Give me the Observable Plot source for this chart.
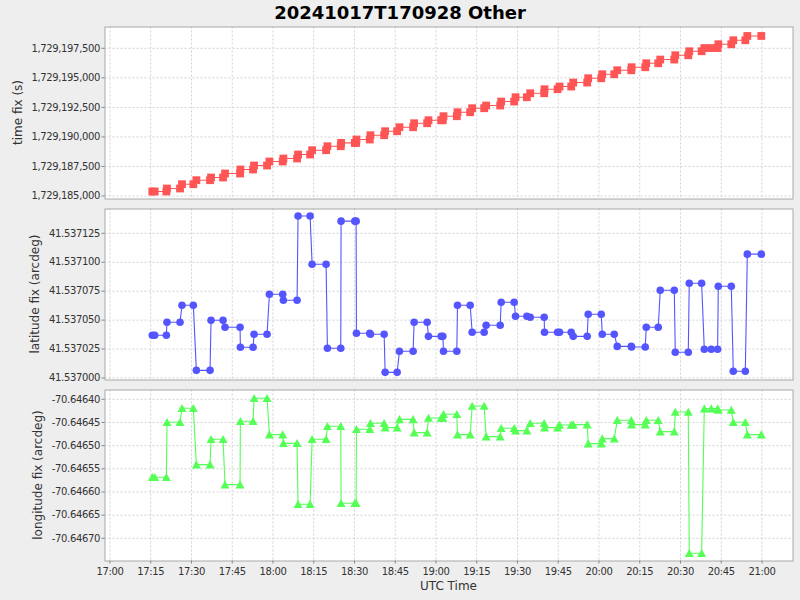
<!DOCTYPE html>
<html>
<head>
<meta charset="utf-8">
<script src="https://cdn.jsdelivr.net/npm/d3@7"></script>
<script src="https://cdn.jsdelivr.net/npm/@observablehq/plot@0.6"></script>
<style>
  html, body { margin: 0; padding: 0; background: #eeeeee; }
  #chart { position: relative; width: 800px; height: 600px; background: #eeeeee; overflow: hidden; }
  #chart svg { position: absolute; left: 0; top: 0; }
</style>
</head>
<body>
<div id="chart"></div>
<script>
// ---- data ----
const chartTitle = "20241017T170928 Other";
const xLabel = "UTC Time";
const yLabels = ["time fix (s)", "latitude fix (arcdeg)", "longitude fix (arcdeg)"];

// sample times (UTC, 2024-10-17)
const sampleTimes = [
  "17:15:35","17:16:27","17:20:45","17:20:59","17:25:47","17:26:31","17:30:41","17:31:48","17:36:50","17:37:12",
  "17:41:37","17:42:21","17:47:53","17:48:00","17:52:40","17:53:02","17:57:49","17:58:41","18:03:35","18:03:50",
  "18:08:52","18:09:14","18:13:40","18:14:24","18:19:33","18:20:02","18:24:57","18:25:04","18:30:07","18:30:36",
  "18:30:43","18:35:38","18:35:53","18:40:55","18:41:17","18:45:42","18:46:33","18:51:35","18:51:57","18:56:45",
  "18:57:14","19:01:54","19:02:31","19:02:46","19:07:40","19:07:55","19:12:35","19:13:19","19:17:44","19:18:28",
  "19:23:38","19:24:00","19:28:47","19:29:17","19:33:27","19:34:41","19:39:50","19:39:57","19:44:45","19:45:29",
  "19:49:47","19:50:31","19:55:40","19:56:02","20:00:50","20:01:12","20:05:37","20:06:43","20:11:53","20:12:00",
  "20:17:02","20:17:24","20:21:49","20:22:33","20:27:43","20:28:05","20:32:52","20:33:14","20:37:47","20:38:46",
  "20:41:20","20:43:40","20:43:55","20:48:42","20:49:26","20:53:52","20:54:36","20:59:45"
];
// which fix each sample reports
const sampleFix = [
  0,0,0,1,1,2,2,3,3,4,4,5,5,6,6,7,7,8,8,9,9,10,10,11,11,12,12,13,13,13,
  14,14,15,15,16,16,17,17,18,18,19,19,19,20,20,21,21,22,22,23,23,24,24,25,25,26,26,27,27,28,
  28,29,29,30,30,31,31,32,32,33,33,34,34,35,35,36,36,37,37,38,38,38,39,39,40,40,41,41
];
// fix values
const fixTime = [
  1729185381,1729185635,1729185998,1729186337,1729186565,1729186904,1729187242,1729187580,1729187919,1729188173,
  1729188511,1729188875,1729189213,1729189492,1729189780,1729190144,1729190482,1729190821,1729191159,1729191413,
  1729191751,1729192090,1729192428,1729192656,1729192995,1729193359,1729193697,1729194035,1729194264,1729194602,
  1729194966,1729195304,1729195643,1729195897,1729196235,1729196548,1729196912,1729197250,1729197521,1729197842,
  1729198181,1729198545
];
const fixLat = [
  41.5370369,41.5370482,41.5370629,41.5370066,41.5370499,41.5370438,41.5370265,41.5370378,41.5370724,41.5370672,
  41.5371399,41.5370983,41.5370257,41.5371355,41.5370386,41.5370378,41.5370049,41.5370231,41.5370482,41.5370360,
  41.5370231,41.5370629,41.5370395,41.5370456,41.5370655,41.5370534,41.5370525,41.5370395,41.5370395,41.5370360,
  41.5370551,41.5370378,41.5370273,41.5370268,41.5370438,41.5370758,41.5370222,41.5370819,41.5370248,41.5370793,
  41.5370058,41.5371070
];
const fixLon = [
  -70.6465683,-70.6464496,-70.6464194,-70.6465410,-70.6464863,-70.6465842,-70.6464475,-70.6463978,-70.6464763,-70.6464950,
  -70.6466266,-70.6464863,-70.6464583,-70.6466245,-70.6464647,-70.6464518,-70.6464612,-70.6464432,-70.6464720,-70.6464403,
  -70.6464324,-70.6464763,-70.6464144,-70.6464806,-70.6464626,-70.6464676,-70.6464518,-70.6464612,-70.6464554,-70.6464547,
  -70.6464957,-70.6464849,-70.6464453,-70.6464547,-70.6464453,-70.6464698,-70.6464273,-70.6467324,-70.6464201,-70.6464230,
  -70.6464496,-70.6464763
];
// axis ticks
const xTickTimes = ["17:00","17:15","17:30","17:45","18:00","18:15","18:30","18:45","19:00","19:15","19:30","19:45","20:00","20:15","20:30","20:45","21:00"];
const timeTicks = [1729185000,1729187500,1729190000,1729192500,1729195000,1729197500];
const latTicks = [41.537000,41.537025,41.537050,41.537075,41.537100,41.537125];
const lonTicks = [-70.64640,-70.64645,-70.64650,-70.64655,-70.64660,-70.64665,-70.64670];

// ---- build ----
const utc = s => new Date(`2024-10-17T${s.length === 5 ? s + ":00" : s}Z`);
const samples = sampleTimes.map((s, i) => ({
  t: utc(s),
  time: fixTime[sampleFix[i]],
  lat: fixLat[sampleFix[i]],
  lon: fixLon[sampleFix[i]]
}));
const xTicks = xTickTimes.map(utc);
const xDomain = [utc("16:58:10"), utc("21:11:25")];

const squareSym = { draw(c) { c.rect(-3.9, -3.9, 7.8, 7.8); } };
const triSym = { draw(c) { c.moveTo(0, -4.3); c.lineTo(4.5, 3.8); c.lineTo(-4.5, 3.8); c.closePath(); } };

const chart = document.getElementById("chart");
const FONT = "DejaVu Sans, Verdana, sans-serif";

function panel({y, domain, top, bottom, ticks, fmt, color, symbol, r, showX}) {
  const marks = [
    Plot.frame({fill: "white", stroke: null}),
    Plot.gridX(xTicks, {stroke: "#d2d2d2", strokeOpacity: 1, strokeWidth: 1, strokeDasharray: "2,2"}),
    Plot.gridY(ticks, {stroke: "#d2d2d2", strokeOpacity: 1, strokeWidth: 1, strokeDasharray: "2,2"}),
    Plot.line(samples, {x: "t", y, stroke: color, strokeWidth: 1.1}),
    Plot.dot(samples, {x: "t", y, fill: color, stroke: null, r, symbol}),
    Plot.frame({stroke: "#a8a8a8", strokeWidth: 1}),
    Plot.axisY(ticks, {tickSize: 3, tickPadding: 2, tickFormat: fmt, stroke: "#888888", fill: "#333333", label: null})
  ];
  if (showX) {
    marks.push(Plot.axisX(xTicks, {tickSize: 3, tickPadding: 3.5, tickFormat: d3.utcFormat("%H:%M"), stroke: "#888888", fill: "#333333", label: null}));
  }
  return Plot.plot({
    width: 800, height: 600,
    marginLeft: 104.5, marginRight: 7.5, marginTop: top, marginBottom: 600 - bottom,
    style: {background: "transparent", fontFamily: FONT, fontSize: "10px", letterSpacing: "-0.35px", overflow: "visible"},
    x: {type: "utc", domain: xDomain, axis: showX ? undefined : null},
    y: {domain},
    marks
  });
}

chart.appendChild(panel({
  y: "time", domain: [1729184746, 1729199303], top: 26.5, bottom: 198.5,
  ticks: timeTicks, fmt: d3.format(","), color: "#ff5555", symbol: squareSym, r: 4, showX: false
}));
chart.appendChild(panel({
  y: "lat", domain: [41.53699827, 41.537146], top: 208.5, bottom: 379.5,
  ticks: latTicks, fmt: d => d.toFixed(6), color: "#5555ff", symbol: "circle", r: 3.8, showX: false
}));
chart.appendChild(panel({
  y: "lon", domain: [-70.646749, -70.6463799], top: 389.5, bottom: 560.5,
  ticks: lonTicks, fmt: d => d.toFixed(5), color: "#55ff55", symbol: triSym, r: 4, showX: true
}));

// titles and axis labels (text)
const ov = d3.select(chart).append("svg").attr("width", 800).attr("height", 600)
  .style("font-family", FONT);
ov.append("text").attr("x", 400).attr("y", 19).attr("text-anchor", "middle")
  .attr("font-size", 18).attr("font-weight", "bold").attr("fill", "#000").text(chartTitle);
ov.append("text").attr("x", 448.5).attr("y", 589.5).attr("text-anchor", "middle")
  .attr("font-size", 12).attr("fill", "#333333").text(xLabel);
const yLabPos = [[17.5, 112.5], [35, 294], [37.5, 475]];
yLabels.forEach((lab, i) => {
  ov.append("text")
    .attr("transform", `translate(${yLabPos[i][0]},${yLabPos[i][1]}) rotate(-90)`)
    .attr("text-anchor", "middle").attr("dominant-baseline", "central")
    .attr("font-size", 12).attr("fill", "#333333").text(lab);
});
</script>
</body>
</html>
